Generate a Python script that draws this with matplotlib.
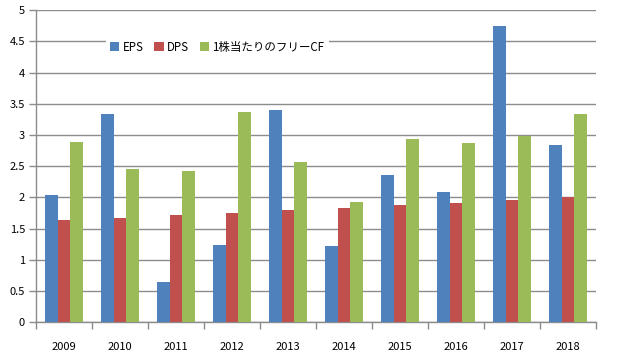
import matplotlib
matplotlib.use("Agg")
import matplotlib.pyplot as plt
import numpy as np

plt.rcParams['font.family'] = ['Noto Sans CJK JP', 'DejaVu Sans']

years = ["2009", "2010", "2011", "2012", "2013", "2014", "2015", "2016", "2017", "2018"]
eps = [2.04, 3.33, 0.64, 1.23, 3.40, 1.22, 2.36, 2.09, 4.74, 2.84]
dps = [1.64, 1.67, 1.71, 1.75, 1.80, 1.83, 1.88, 1.91, 1.96, 2.00]
fcf = [2.88, 2.45, 2.43, 3.37, 2.57, 1.92, 2.93, 2.87, 2.98, 3.33]
series_names = ["EPS", "DPS", "1株当たりのフリーCF"]
colors = ["#4F81BD", "#C0504D", "#9BBB59"]

fig = plt.figure(figsize=(6.22, 3.62), dpi=100)
ax = fig.add_axes([0.058, 0.110, 0.900, 0.862])

x = np.arange(len(years))
w = 0.227
for i, (vals, name, c) in enumerate(zip([eps, dps, fcf], series_names, colors)):
    ax.bar(x + (i - 1) * w, vals, width=w, color=c, label=name, zorder=3)

ax.set_xlim(-0.5, len(years) - 0.5)
ax.set_ylim(0, 5)
ax.set_yticks(np.arange(0, 5.01, 0.5))
ax.set_yticklabels(["0", "0.5", "1", "1.5", "2", "2.5", "3", "3.5", "4", "4.5", "5"])
ax.yaxis.grid(True, color="#8C8C8C", linewidth=1, zorder=0)
ax.set_axisbelow(True)

ax.set_xticks(np.arange(-0.5, len(years), 1.0))
ax.set_xticklabels([])
ax.set_xticks(x, minor=True)
ax.set_xticklabels(years, minor=True)
ax.tick_params(axis="x", which="minor", length=0, pad=14, labelsize=8)
ax.tick_params(axis="x", which="major", length=5, color="#8C8C8C", width=1)
ax.tick_params(axis="y", length=5, color="#8C8C8C", width=1, labelsize=8, pad=3)

for s in ["top", "right"]:
    ax.spines[s].set_visible(False)
for s in ["left", "bottom"]:
    ax.spines[s].set_color("#8C8C8C")
    ax.spines[s].set_linewidth(1)

leg = ax.legend(loc="upper left", bbox_to_anchor=(0.114, 0.935), ncol=3, frameon=True,
                fontsize=8.3, handlelength=0.8, handleheight=0.8, handletextpad=0.3,
                columnspacing=0.9, borderpad=0.4, fancybox=False)
leg.get_frame().set_facecolor("white")
leg.get_frame().set_edgecolor("none")
leg.get_frame().set_alpha(1)

fig.savefig("out.png", dpi=100)
